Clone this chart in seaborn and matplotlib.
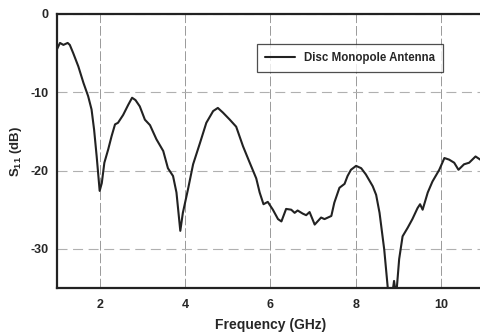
import matplotlib
matplotlib.use("Agg")
import matplotlib.pyplot as plt
import seaborn as sns
import pandas as pd

freq_ghz = [1.00, 1.07, 1.15, 1.25, 1.30, 1.38, 1.50, 1.62, 1.73, 1.81, 1.87, 1.93, 1.97, 2.00,
            2.05, 2.11, 2.20, 2.28, 2.36, 2.43, 2.55, 2.67, 2.76, 2.84, 2.94, 3.06, 3.18, 3.33,
            3.49, 3.60, 3.72, 3.80, 3.89, 3.95, 4.07, 4.19, 4.35, 4.50, 4.66, 4.77, 4.89, 5.05,
            5.20, 5.36, 5.51, 5.67, 5.75, 5.84, 5.94, 6.06, 6.18, 6.26, 6.37, 6.49, 6.57, 6.64,
            6.76, 6.84, 6.92, 7.04, 7.19, 7.27, 7.43, 7.50, 7.62, 7.74, 7.81, 7.89, 8.01, 8.13,
            8.24, 8.40, 8.48, 8.56, 8.67, 8.77, 8.84, 8.90, 8.95, 9.02, 9.10, 9.22, 9.33, 9.45,
            9.51, 9.57, 9.69, 9.80, 9.96, 10.08, 10.19, 10.31, 10.41, 10.54, 10.66, 10.81, 10.92, 11.0]
s11_db = [-4.5, -3.7, -3.95, -3.7, -3.95, -5.0, -6.7, -8.8, -10.5, -12.2, -14.8, -18.2, -20.7, -22.6,
          -21.6, -19.0, -17.3, -15.6, -14.1, -13.9, -12.9, -11.6, -10.7, -11.0, -11.8, -13.5, -14.2, -16.0,
          -17.5, -19.7, -20.7, -22.8, -27.7, -25.4, -22.4, -19.2, -16.5, -13.9, -12.4, -12.0, -12.6, -13.5,
          -14.4, -16.9, -18.9, -21.0, -22.8, -24.3, -24.0, -25.0, -26.2, -26.5, -24.9, -25.0, -25.4, -25.1,
          -25.5, -25.7, -25.3, -26.9, -26.0, -26.2, -25.8, -24.1, -22.2, -21.7, -20.7, -19.9, -19.4, -19.7,
          -20.5, -22.0, -23.1, -25.4, -30.1, -36.0, -36.5, -34.1, -36.0, -31.3, -28.4, -27.3, -26.2, -24.8,
          -24.3, -25.0, -22.8, -21.4, -19.9, -18.4, -18.6, -19.0, -19.9, -19.2, -19.0, -18.2, -18.6, -18.9]
series_label = "Disc Monopole Antenna"
x_ticks = [2, 4, 6, 8, 10]
y_ticks = [0, -10, -20, -30]

sns.set_style("white")
plt.rcParams['font.family'] = ['Liberation Sans', 'DejaVu Sans']
plt.rcParams['mathtext.fontset'] = 'custom'
plt.rcParams['mathtext.rm'] = 'Liberation Sans:bold'
plt.rcParams['mathtext.bf'] = 'Liberation Sans:bold'
plt.rcParams['mathtext.it'] = 'Liberation Sans:bold'

df = pd.DataFrame({"f": freq_ghz, "s": s11_db})

fig = plt.figure(figsize=(4.81, 3.35), dpi=100)
ax = fig.add_axes([0.1185, 0.1403, 0.887, 0.818])
sns.lineplot(data=df, x="f", y="s", ax=ax, color="#222222", linewidth=1.5, label=series_label)

ax.set_xlim(1, 11)
ax.set_ylim(-35, 0)
ax.set_xticks(x_ticks)
ax.set_yticks(y_ticks)
ax.set_xticklabels([str(t) for t in x_ticks], fontweight="bold", fontsize=9)
ax.set_yticklabels([str(t) for t in y_ticks], fontweight="bold", fontsize=9)
ax.tick_params(axis="x", length=3, width=0.8, color="#888888", pad=5)
ax.tick_params(axis="y", length=3, width=0.8, color="#888888", pad=3)

ax.grid(True, axis="x", color="#999999", linestyle=(0, (10, 3)), linewidth=0.7)
ax.grid(True, axis="y", color="#b0b0b0", linestyle=(0, (9, 5)), linewidth=0.8)
ax.set_axisbelow(True)

for side in ["left", "bottom", "top"]:
    ax.spines[side].set_color("#222222")
    ax.spines[side].set_linewidth(1.6)
ax.spines["right"].set_visible(False)

ax.set_xlabel("Frequency (GHz)", fontweight="bold", fontsize=10, labelpad=5)
ax.set_ylabel("S$_{\\mathbf{11}}$ (dB)", fontweight="bold", fontsize=9.5, labelpad=5)

leg = ax.legend(loc="upper left", bbox_to_anchor=(0.469, 0.891), frameon=True, fancybox=False,
                prop={"weight": "bold", "size": 8.3}, borderpad=0.7, handlelength=2.6,
                borderaxespad=0)
leg.get_frame().set_edgecolor("#222222")
leg.get_frame().set_linewidth(0.9)

fig.savefig("out.png", dpi=100)
